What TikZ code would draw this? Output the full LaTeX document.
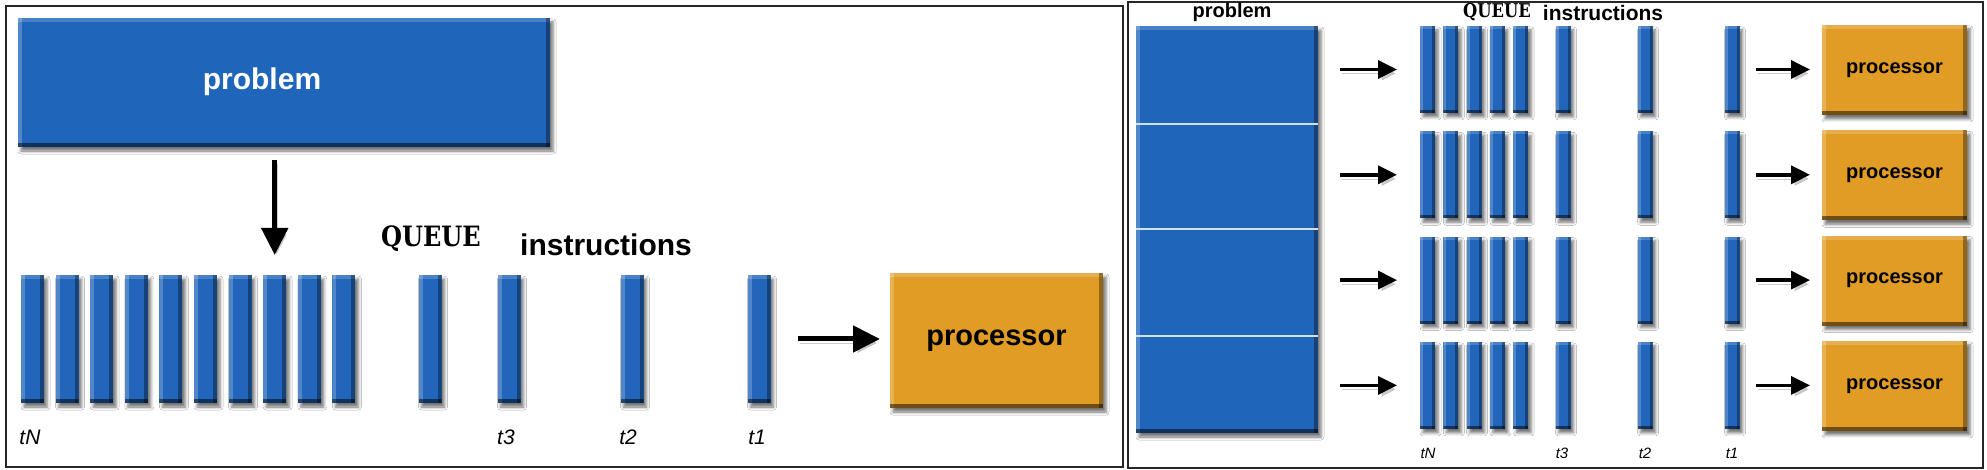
\documentclass[tikz,border=0pt]{standalone}
\usepackage{fontspec}
\setmainfont{Liberation Sans}
\newfontfamily\slab{DejaVu Serif}
\usetikzlibrary{arrows.meta,shadows.blur,calc}
\definecolor{barblue}{HTML}{2166BA}
\definecolor{boxblue}{HTML}{1F66BA}
\definecolor{procorange}{HTML}{E19C25}
\newcommand{\fsz}[1]{\fontsize{#1}{#1}\selectfont}
\newcommand{\queuetext}{\scalebox{0.86}[1]{\slab\bfseries QUEUE}}
\tikzset{
  sh/.style={blur shadow={shadow xshift=3pt,shadow yshift=-4pt,shadow blur radius=3pt,shadow opacity=55}},
  bevel/.style={path picture={
    \fill[white,opacity=.22] (path picture bounding box.north west) rectangle ([xshift=#1]path picture bounding box.south west);
    \fill[white,opacity=.18] (path picture bounding box.north west) rectangle ([yshift=-#1]path picture bounding box.north east);
    \fill[black,opacity=.35] ([xshift=-#1]path picture bounding box.north east) rectangle (path picture bounding box.south east);
    \fill[black,opacity=.5] ([yshift=#1]path picture bounding box.south west) rectangle (path picture bounding box.south east);
  }},
  lbar/.style={sh, fill=barblue, inner sep=0pt, outer sep=0pt, minimum width=23pt, minimum height=128pt, bevel=4pt},
  rbar/.style={sh, fill=barblue, inner sep=0pt, outer sep=0pt, minimum width=15pt, minimum height=87pt, bevel=3pt},
  pbox/.style={sh, fill=boxblue, inner sep=0pt, outer sep=0pt, bevel=4pt},
  obox/.style={sh, fill=procorange, inner sep=0pt, outer sep=0pt, bevel=4pt, font=\bfseries},
  frame/.style={draw=black!85, line width=1.5pt},
  wtxt/.style={text=white, inner sep=0pt, font=\bfseries},
  btxt/.style={text=black, inner sep=0pt},
  ashadow/.style={preaction={draw=black!45, opacity=.45, transform canvas={shift={(2pt,-4pt)}}}},
  bigarr/.style={ashadow, draw=black, line width=5pt, -{Triangle[length=27pt,width=26pt]}},
  smarr/.style={ashadow, draw=black, line width=3.5pt, -{Triangle[length=19pt,width=18pt]}},
  divider/.style={draw=white!80!boxblue, line width=1.5pt}
}
\begin{document}
\begin{tikzpicture}[x=1pt,y=-1pt]
\useasboundingbox (0,0) rectangle (1987,470);
\fill[white] (0,0) rectangle (1987,470);
\draw[frame] (6,6) rectangle (1123,467);
\draw[frame] (1128,2) rectangle (1983,468);

% ---------- left panel ----------
\node[pbox, minimum width=532pt, minimum height=129pt] (problem) at (284,82.5) {};
\node[wtxt, font=\fsz{30}\bfseries] (problemtxt) at (262,82) {problem};

\foreach \i in {1,...,10}
  \node[lbar] (lq\i) at ({32.5+34.6*(\i-1)},339) {};
\node[lbar] (lqq) at (430,339) {};
\node[lbar] (lt3) at (509,339) {};
\node[lbar] (lt2) at (632,339) {};
\node[lbar] (lt1) at (759,339) {};

\node[obox, minimum width=213pt, minimum height=135pt, font=\fsz{29}\bfseries] (proc) at (996.5,340.5) {processor};

\draw[bigarr, shorten <=13pt, shorten >=20pt] (problem.south -| lq8.north) -- (lq8.north);
\draw[bigarr, shorten <=27.5pt, shorten >=10pt] (lt1.east) -- (proc.west |- lt1.east);

\node[btxt, font=\fsz{28}] (lqueue) at (431,239) {\queuetext};
\node[btxt, font=\fsz{30}\bfseries] (linstr) at (606,245) {instructions};
\node[btxt, font=\fsz{21}\itshape] (ltN) at (30,437) {tN};
\node[btxt, font=\fsz{21}\itshape] (lt3l) at (506,437) {t3};
\node[btxt, font=\fsz{21}\itshape] (lt2l) at (628,437) {t2};
\node[btxt, font=\fsz{21}\itshape] (lt1l) at (757,437) {t1};

% ---------- right panel ----------
\node[pbox, minimum width=182pt, minimum height=407pt] (rbig) at (1227,229.5) {};
\draw[divider] (1136,124) -- (1318,124);
\draw[divider] (1136,229) -- (1318,229);
\draw[divider] (1136,336) -- (1318,336);

\foreach \i in {0,...,3}{
  \pgfmathsetmacro\yc{69.5+105.3*\i}
  \foreach \j in {1,...,5}
    \node[rbar] (r\i q\j) at ({1427.5+23.3*(\j-1)},\yc) {};
  \node[rbar] (r\i t3) at (1563,\yc) {};
  \node[rbar] (r\i t2) at (1645,\yc) {};
  \node[rbar] (r\i t1) at (1732,\yc) {};
  \node[obox, minimum width=145pt, minimum height=90pt, font=\fsz{20}\bfseries] (r\i p) at (1894.5,\yc+0.5) {processor};
  \draw[smarr, shorten <=22pt, shorten >=23pt] (rbig.east |- r\i q1.west) -- (r\i q1.west);
  \draw[smarr, shorten <=16.5pt, shorten >=12pt] (r\i t1.east) -- (r\i p.west |- r\i t1.east);
}

\node[btxt, font=\fsz{20}\bfseries] (rproblem) at (1232,12) {problem};
\node[btxt, font=\fsz{19}] (rqueue) at (1497,12) {\queuetext};
\node[btxt, font=\fsz{21}\bfseries] (rinstr) at (1603,13) {instructions};
\node[btxt, font=\fsz{15}\itshape] (rtN) at (1428,453) {tN};
\node[btxt, font=\fsz{15}\itshape] (rt3l) at (1562,453) {t3};
\node[btxt, font=\fsz{15}\itshape] (rt2l) at (1645,453) {t2};
\node[btxt, font=\fsz{15}\itshape] (rt1l) at (1732,453) {t1};
\end{tikzpicture}
\end{document}
